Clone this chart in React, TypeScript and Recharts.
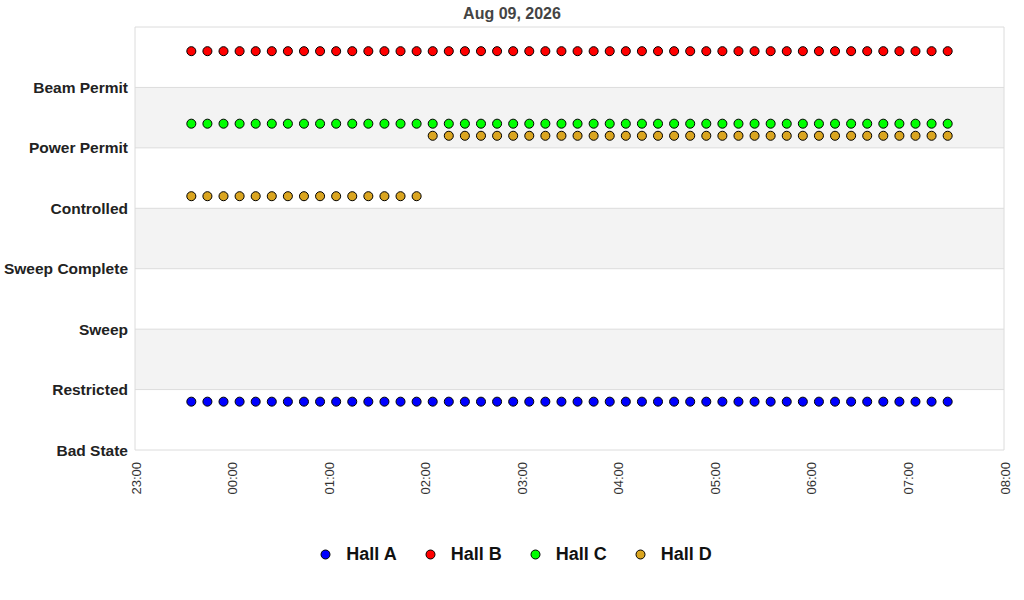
import { ScatterChart, Scatter, XAxis, YAxis, ReferenceArea, ReferenceLine, Legend } from 'recharts'

// 10-minute samples, 23:35 -> 07:25
const times = [
  '23:35', '23:45', '23:55', '00:05', '00:15', '00:25', '00:35', '00:45', '00:55', '01:05', '01:15', '01:25',
  '01:35', '01:45', '01:55', '02:05', '02:15', '02:25', '02:35', '02:45', '02:55', '03:05', '03:15', '03:25',
  '03:35', '03:45', '03:55', '04:05', '04:15', '04:25', '04:35', '04:45', '04:55', '05:05', '05:15', '05:25',
  '05:35', '05:45', '05:55', '06:05', '06:15', '06:25', '06:35', '06:45', '06:55', '07:05', '07:15', '07:25',
]

const hallA = [
  0.8, 0.8, 0.8, 0.8, 0.8, 0.8, 0.8, 0.8, 0.8, 0.8, 0.8, 0.8, 0.8, 0.8, 0.8, 0.8,
  0.8, 0.8, 0.8, 0.8, 0.8, 0.8, 0.8, 0.8, 0.8, 0.8, 0.8, 0.8, 0.8, 0.8, 0.8, 0.8,
  0.8, 0.8, 0.8, 0.8, 0.8, 0.8, 0.8, 0.8, 0.8, 0.8, 0.8, 0.8, 0.8, 0.8, 0.8, 0.8,
]
const hallB = [
  6.6, 6.6, 6.6, 6.6, 6.6, 6.6, 6.6, 6.6, 6.6, 6.6, 6.6, 6.6, 6.6, 6.6, 6.6, 6.6,
  6.6, 6.6, 6.6, 6.6, 6.6, 6.6, 6.6, 6.6, 6.6, 6.6, 6.6, 6.6, 6.6, 6.6, 6.6, 6.6,
  6.6, 6.6, 6.6, 6.6, 6.6, 6.6, 6.6, 6.6, 6.6, 6.6, 6.6, 6.6, 6.6, 6.6, 6.6, 6.6,
]
const hallC = [
  5.4, 5.4, 5.4, 5.4, 5.4, 5.4, 5.4, 5.4, 5.4, 5.4, 5.4, 5.4, 5.4, 5.4, 5.4, 5.4,
  5.4, 5.4, 5.4, 5.4, 5.4, 5.4, 5.4, 5.4, 5.4, 5.4, 5.4, 5.4, 5.4, 5.4, 5.4, 5.4,
  5.4, 5.4, 5.4, 5.4, 5.4, 5.4, 5.4, 5.4, 5.4, 5.4, 5.4, 5.4, 5.4, 5.4, 5.4, 5.4,
]
const hallD = [
  4.2, 4.2, 4.2, 4.2, 4.2, 4.2, 4.2, 4.2, 4.2, 4.2, 4.2, 4.2, 4.2, 4.2, 4.2, 5.2,
  5.2, 5.2, 5.2, 5.2, 5.2, 5.2, 5.2, 5.2, 5.2, 5.2, 5.2, 5.2, 5.2, 5.2, 5.2, 5.2,
  5.2, 5.2, 5.2, 5.2, 5.2, 5.2, 5.2, 5.2, 5.2, 5.2, 5.2, 5.2, 5.2, 5.2, 5.2, 5.2,
]

const stateLabels = ['Bad State', 'Restricted', 'Sweep', 'Sweep Complete', 'Controlled', 'Power Permit', 'Beam Permit', '']
const stateTicks = [0, 1, 2, 3, 4, 5, 6, 7]
const shadedBands = [[1, 2], [3, 4], [5, 6]]

const hourLabels = ['23:00', '00:00', '01:00', '02:00', '03:00', '04:00', '05:00', '06:00', '07:00', '08:00']
const hourTicks = [0, 60, 120, 180, 240, 300, 360, 420, 480, 540]

const FONT = '"Liberation Sans", Arial, Helvetica, sans-serif'

// minutes since 23:00
function toMin(t: string) {
  const [h, m] = t.split(':').map(Number)
  return (h * 60 + m - 23 * 60 + 1440) % 1440
}

const series = [
  { name: 'Hall A', color: '#0000ff', values: hallA },
  { name: 'Hall B', color: '#ff0000', values: hallB },
  { name: 'Hall C', color: '#00ff00', values: hallC },
  { name: 'Hall D', color: '#daa520', values: hallD },
].map(s => ({ ...s, data: times.map((t, i) => ({ t: toMin(t), v: s.values[i] })) }))

function YTick({ x, y, payload }: any) {
  return (
    <text x={x} y={y} textAnchor="end" dominantBaseline="central"
      style={{ fontFamily: FONT, fontSize: 15.5, fontWeight: 700, fill: '#222' }}>
      {stateLabels[payload.value]}
    </text>
  )
}

function XTick({ x, y, payload }: any) {
  const i = hourTicks.indexOf(payload.value)
  const cx = x + 1
  return (
    <text x={cx} y={y} transform={`rotate(-90, ${cx}, ${y})`} textAnchor="end" dominantBaseline="central"
      style={{ fontFamily: FONT, fontSize: 13, fill: '#333' }}>
      {hourLabels[i]}
    </text>
  )
}

function LegendContent() {
  return (
    <div style={{ display: 'flex', justifyContent: 'center', alignItems: 'center', paddingLeft: 8, fontFamily: FONT }}>
      {series.map((s, i) => (
        <div key={s.name} style={{ display: 'flex', alignItems: 'center', marginRight: i < series.length - 1 ? 28 : 0 }}>
          <svg width={11} height={11} style={{ marginRight: 15 }}>
            <circle cx={5.5} cy={5.5} r={4.5} fill={s.color} stroke="#000" strokeWidth={1} />
          </svg>
          <span style={{ fontSize: 18, fontWeight: 700, color: '#111', lineHeight: '22px' }}>{s.name}</span>
        </div>
      ))}
    </div>
  )
}

export default function App() {
  return (
    <div style={{ position: 'absolute', left: 0, top: 0, width: 1024, height: 600, background: '#fff' }}>
      <div style={{ position: 'absolute', top: 5, left: 0, width: 1024, textAlign: 'center', fontFamily: FONT, fontSize: 16, fontWeight: 700, color: '#444' }}>
        Aug 09, 2026
      </div>
      <ScatterChart width={1024} height={600} margin={{ top: 27, right: 20, bottom: 100, left: 0 }}>
        {shadedBands.map(([a, b]) => (
          <ReferenceArea key={a} y1={a} y2={b} fill="#f3f3f3" fillOpacity={1} stroke="none" />
        ))}
        {stateTicks.map(v => (
          <ReferenceLine key={'h' + v} y={v} stroke="#dcdcdc" strokeWidth={1} />
        ))}
        <ReferenceLine x={0} stroke="#dcdcdc" strokeWidth={1} />
        <ReferenceLine x={540} stroke="#dcdcdc" strokeWidth={1} />
        <XAxis dataKey="t" type="number" domain={[0, 540]} ticks={hourTicks} interval={0}
          axisLine={false} tickLine={false} tickMargin={6} height={50} tick={<XTick />} />
        <YAxis dataKey="v" type="number" domain={[0, 7]} ticks={stateTicks} interval={0}
          axisLine={false} tickLine={false} tickMargin={1} width={135} tick={<YTick />} />
        <Legend layout="horizontal" verticalAlign="middle" align="center" content={<LegendContent />}
          wrapperStyle={{ top: 543, left: 0, width: 1024 }} />
        {series.map(s => (
          <Scatter key={s.name} name={s.name} data={s.data} fill={s.color} stroke="#000" strokeWidth={1}
            isAnimationActive={false} />
        ))}
      </ScatterChart>
    </div>
  )
}
